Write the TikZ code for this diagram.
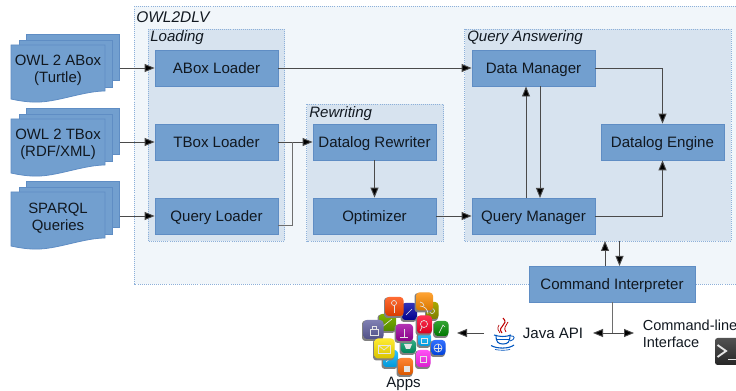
\documentclass[tikz,border=0pt]{standalone}
\usepackage{fontspec}
\setmainfont{Liberation Sans}
\usetikzlibrary{arrows.meta,calc}
\definecolor{boxfill}{HTML}{729FCF}
\definecolor{boxline}{HTML}{5F8DC4}
\definecolor{panelfill}{HTML}{D7E3EF}
\definecolor{outerfill}{HTML}{F1F6FA}
\definecolor{dashline}{HTML}{8DB0D9}
\definecolor{inktext}{HTML}{111820}
\definecolor{wire}{HTML}{4A4A4A}
\tikzset{
  comp/.style={draw=boxline,fill=boxfill,line width=0.6pt,minimum width=92.25pt,minimum height=27pt,inner sep=0pt,text=inktext,text height=9pt,text depth=0pt,font=\fontsize{11.3}{13.5}\selectfont},
  stacktext/.style={text=inktext,align=center,inner sep=0pt,font=\fontsize{11.2}{13}\selectfont},
  plaintext/.style={text=inktext,inner sep=0pt,font=\fontsize{10.9}{12.8}\selectfont},
  paneltitle/.style={text=inktext,anchor=base west,inner sep=0pt,font=\itshape\fontsize{11.3}{13.5}\selectfont},
  panel/.style={draw=dashline,fill=panelfill,line width=0.55pt,densely dotted},
  outerpanel/.style={draw=dashline,fill=outerfill,line width=0.55pt,densely dotted},
  pagefill/.style={fill=boxfill,draw=boxline,line width=0.6pt},
  conn/.style={draw=wire,line width=0.7pt,-{Triangle[length=7.5pt,width=6pt,fill=black]}},
  connplain/.style={draw=wire,line width=0.7pt},
  both/.style={draw=wire,line width=0.7pt,{Triangle[length=7.5pt,width=6pt,fill=black]}-{Triangle[length=7.5pt,width=6pt,fill=black]}},
}
% document stack: #1 = top y of rearmost page
\newcommand{\docstack}[1]{%
  \path[pagefill] (26,#1) rectangle (119.5,#1+46);
  \path[pagefill] (19,#1+6) rectangle (112,#1+53);
  \path[pagefill] (11,#1+11) -- (105,#1+11) -- (105,#1+57)
    .. controls (85,#1+57) and (60,#1+67) .. (40,#1+68)
    .. controls (30,#1+68.5) and (20,#1+67) .. (11,#1+65) -- cycle;
}
% app icon: x, y, w, h, colour, glyph
\newcommand{\appicon}[6]{%
  \begin{scope}[shift={(#1,#2)}]
    \fill[black!50,rounded corners=2.5pt] (-#3/2-0.5,-#4/2+0.5) rectangle (#3/2-0.5,#4/2+1);
    \path[top color=#5!80!white,bottom color=#5!85!black,rounded corners=2.5pt] (-#3/2+1,-#4/2) rectangle (#3/2,#4/2-1);
    \begin{scope}[white!90!black,line width=0.5pt,fill=white!90!black]
      #6
    \end{scope}
  \end{scope}%
}
\begin{document}
\begin{tikzpicture}[x=0.75pt,y=-0.75pt]
\clip (0,0) rectangle (736,391);
\useasboundingbox (0,0) rectangle (736,391);
\fill[white] (0,0) rectangle (736,391);
% panels
\draw[outerpanel] (134,6.5) rectangle (760,284);
\draw[panel] (148,29) rectangle (284.5,241);
\draw[panel] (306.5,104.5) rectangle (443.5,241);
\draw[panel] (464.5,29) rectangle (731,241);
\node[paneltitle,font=\itshape\fontsize{11.6}{14}\selectfont] (toplabel) at (136,22.3) {OWL2DLV};
\node[paneltitle] (loadlabel) at (150,41.6) {Loading};
\node[paneltitle] (rewritelabel) at (309,117.3) {Rewriting};
\node[paneltitle] (qalabel) at (467,41.6) {Query Answering};
% document stacks
\docstack{34}
\docstack{108}
\docstack{181}
\node[stacktext] (aboxdoc) at (58,70.5) {OWL 2 ABox\\(Turtle)};
\node[stacktext] (tboxdoc) at (58,144.5) {OWL 2 TBox\\(RDF/XML)};
\node[stacktext] (querydoc) at (58,218.5) {SPARQL\\Queries};
\coordinate (aboxout) at (119.5,68);
\coordinate (tboxout) at (119.5,142);
\coordinate (queryout) at (119.5,216);
% components
\node[comp] (al) at (216.5,68) {ABox Loader};
\node[comp] (tl) at (216.5,142) {TBox Loader};
\node[comp] (ql) at (216.5,216) {Query Loader};
\node[comp] (dr) at (374.5,142) {Datalog Rewriter};
\node[comp] (op) at (374.5,216) {Optimizer};
\node[comp] (dm) at (533.5,68) {Data Manager};
\node[comp] (qm) at (533.5,216) {Query Manager};
\node[comp] (de) at (662.5,142) {Datalog Engine};
\node[comp,minimum width=124.5pt] (ci) at (612,284) {Command Interpreter};
% connectors
\draw[conn] (aboxout) -- (al);
\draw[conn] (tboxout) -- (tl);
\draw[conn] (queryout) -- (ql);
\draw[conn] (al) -- (dm);
\draw[conn] (tl) -- (dr);
\coordinate (qlout) at (278,225);
\coordinate (junction) at (292,142);
\draw[connplain,draw=wire!80] (qlout) -| (junction);
\draw[conn] (dr) -- (op);
\draw[conn] (op) -- (qm);
\draw[conn] (dm.east) -| (de.north);
\draw[conn] (qm.east) -| (de.south);
\coordinate (qmup) at (526,198);
\coordinate (dmup) at (526,86.5);
\coordinate (dmdown) at (540,86.5);
\coordinate (qmdown) at (540,198);
\draw[conn] (qmup) -- (dmup);
\draw[conn] (dmdown) -- (qmdown);
\coordinate (ciup) at (605,266);
\coordinate (qaup) at (605,241);
\coordinate (qadown) at (619.5,241);
\coordinate (cidown) at (619.5,266);
\draw[conn] (ciup) -- (qaup);
\draw[conn] (qadown) -- (cidown);
% lower part
\coordinate (cifork) at (612,333);
\coordinate (forkleft) at (593,333);
\coordinate (forkright) at (634,333);
\draw[connplain,draw=wire!80] (ci.south) -- (cifork);
\draw[both] (forkleft) -- (forkright);
\node[plaintext,anchor=base,font=\fontsize{11.3}{13}\selectfont] (java) at (553,338.3) {Java API};
\node[plaintext,align=left,anchor=west] (cli) at (642.5,334) {Command-line\\Interface};
\node[plaintext,anchor=base,font=\fontsize{11.3}{13}\selectfont] (apps) at (403.5,387.5) {Apps};
\coordinate (javaout) at (484,333);
\coordinate (appsin) at (457,333);
\draw[conn] (javaout) -- (appsin);
% java logo
\begin{scope}
  \draw[red!75!black,line width=0.8pt] (503,318) .. controls (510,325) and (496,326) .. (502,333);
  \draw[red!75!black,line width=0.6pt] (508,322) .. controls (506,326) and (503,328) .. (506,332);
  \draw[red!70!black,line width=0.5pt] (499,325) .. controls (497,328) and (498,331) .. (500,333);
  \draw[blue!55!cyan!75!black,line width=0.8pt] (494,335) .. controls (500,337) and (506,337) .. (511,335);
  \draw[blue!55!cyan!75!black,line width=0.8pt] (496,335) .. controls (496,342) and (498,344) .. (503,344) .. controls (508,344) and (510,342) .. (510,335);
  \draw[blue!55!cyan!75!black,line width=0.6pt] (510,336) .. controls (516,335) and (515,340) .. (510,341);
  \draw[blue!55!cyan!75!black,line width=0.6pt] (497,339) -- (509,339);
  \draw[blue!55!cyan!75!black,line width=0.8pt] (491,345.5) .. controls (497,349) and (509,349) .. (514,345);
  \draw[blue!55!cyan!75!black,line width=0.5pt] (495,349.5) .. controls (500,350.5) and (506,350.5) .. (510,349.5);
\end{scope}
% terminal icon
\path[top color=black!68,bottom color=black!85,rounded corners=2pt] (715,338) rectangle (745,365);
\draw[white!90!black,line width=1.4pt] (717.5,345) -- (726,351) -- (717.5,357);
\draw[white!90!black,line width=1.2pt] (728,359.5) -- (736,359.5);
% apps cluster
\appicon{432}{311}{13}{18}{olive!85!yellow}{\draw (0,0) circle (2.5);}
\appicon{387}{323}{18}{18}{olive!75!green}{\draw (-5,4) -- (5,-4);}
\appicon{409}{312}{16}{18}{blue!65!black}{\draw (-3,3) -- (3,-3);}
\appicon{394}{307}{19}{20}{orange!55!red}{\draw (0,-4) circle (2.5); \draw (0,-2) -- (0,6);}
\appicon{424}{302}{18}{19}{orange!90!yellow}{\draw (-4,4) arc[start angle=270,end angle=360,radius=8]; \draw (-4,0) arc[start angle=270,end angle=360,radius=4];}
\appicon{373}{330}{21}{20}{gray!75!blue}{\draw (-3,5) rectangle (5,-1); \draw (-1,-1) -- (-1,-4) -- (3,-4) -- (3,-1);}
\appicon{408}{347}{16}{14}{teal!80!green}{\fill (-4,-3) -- (4,-3) -- (2,2) -- (-2,2) -- cycle;}
\appicon{424}{340}{14}{14}{blue!30!cyan}{\draw (-3,-2) rectangle (3,3);}
\appicon{404}{333}{18}{18}{violet!75!magenta}{\draw (0,-4) -- (0,4) (-4,4) -- (4,4);}
\appicon{424}{325}{16}{19}{red!85!magenta}{\draw (0,-1) circle (3.5); \draw (-2,2) -- (-4,6);}
\appicon{441}{329}{15}{16}{green!55!black}{\draw (-2,4) -- (2,-4) -- (4,-2);}
\appicon{438}{348}{15}{16}{blue!70!cyan}{\draw (0,0) circle (4); \draw (-4,0) -- (4,0) (0,-4) -- (0,4);}
\appicon{390}{359}{16}{18}{cyan!70!blue}{\draw (-4,3) -- (3,-3);}
\appicon{423}{359}{15}{18}{magenta!80!pink}{\draw (-3,-3) rectangle (3,3);}
\appicon{405}{367}{16}{18}{orange!80!red}{\fill (-1,-1) rectangle (5,5);}
\appicon{384}{349}{21}{21}{yellow!80!orange}{\draw (-6,-4) rectangle (6,4); \draw (-6,-4) -- (0,1) -- (6,-4);}
\end{tikzpicture}
\end{document}
